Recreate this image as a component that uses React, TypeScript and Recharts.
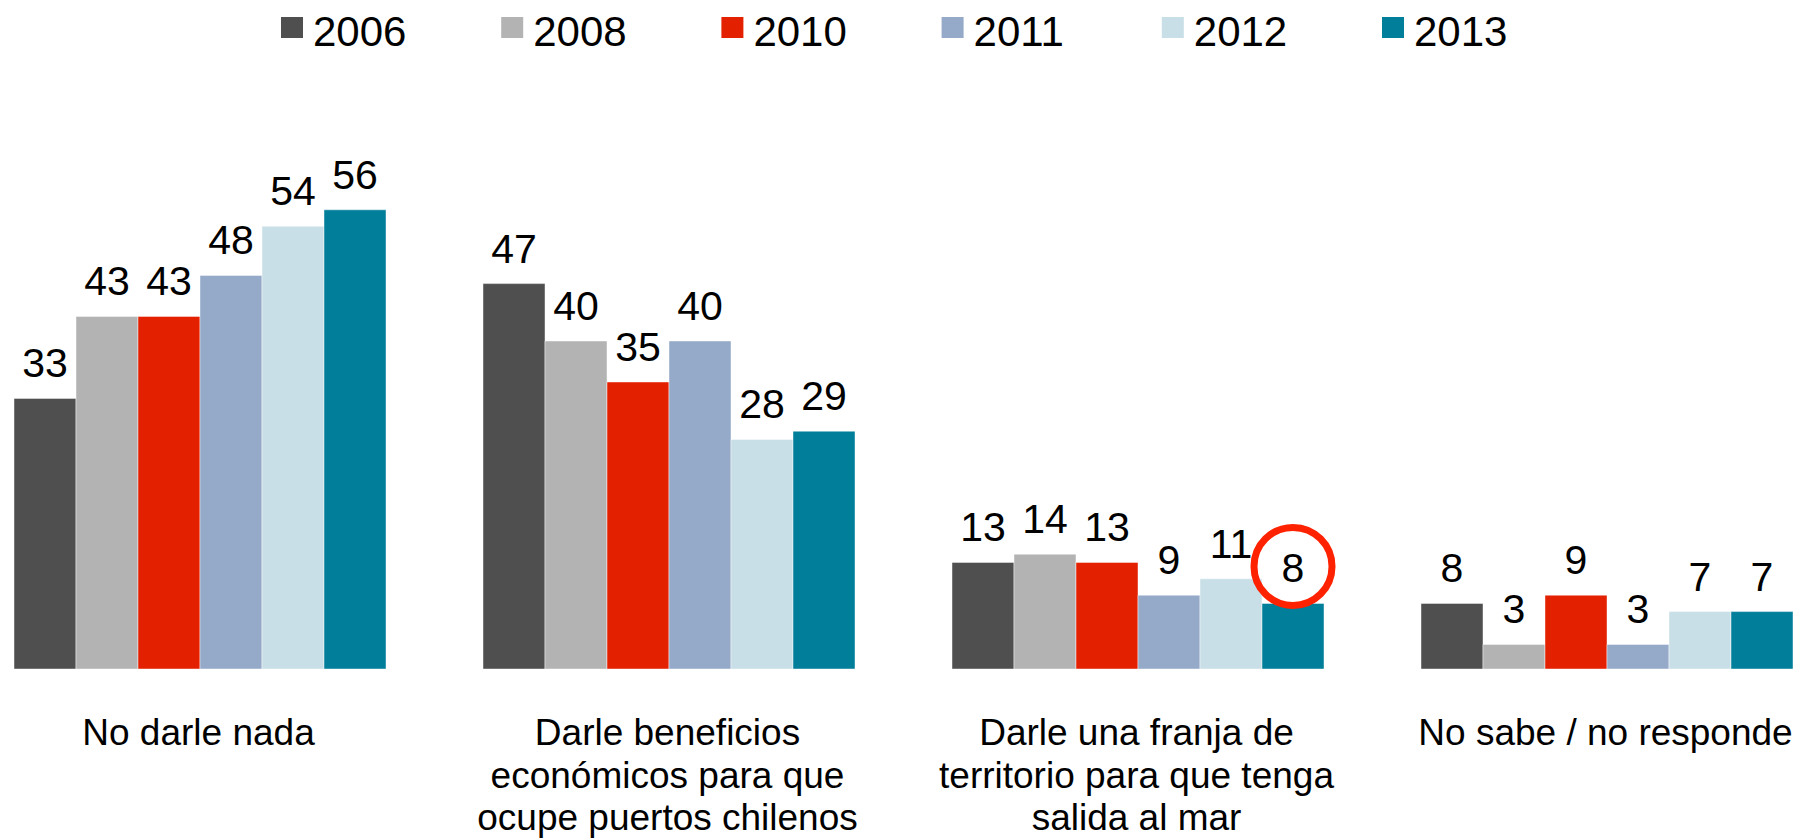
import { Bar, BarChart, LabelList, Legend, XAxis, YAxis } from 'recharts';

const categories = [
  'No darle nada',
  'Darle beneficios\necon\u00f3micos para que\nocupe puertos chilenos',
  'Darle una franja de\nterritorio para que tenga\nsalida al mar',
  'No sabe / no responde'
];

const years = ['2006', '2008', '2010', '2011', '2012', '2013'];

const values2006 = [33, 47, 13, 8];
const values2008 = [43, 40, 14, 3];
const values2010 = [43, 35, 13, 9];
const values2011 = [48, 40, 9, 3];
const values2012 = [54, 28, 11, 7];
const values2013 = [56, 29, 8, 7];

const seriesValues = [values2006, values2008, values2010, values2011, values2012, values2013];
const colors = ['#4f4f4f', '#b3b3b3', '#e32100', '#95a9c9', '#c8dfe7', '#007e9a'];

// the circled value in the original slide
const highlightYear = '2013';
const highlightIndex = 2;

const FONT = '"Liberation Sans", Arial, Helvetica, sans-serif';
const SHIFT = 36; // chart is pulled left so the outer category gaps fall off-page

const data = categories.map((name, i) => {
  const row: Record<string, string | number> = { name };
  years.forEach((year, s) => {
    row[year] = seriesValues[s][i];
  });
  return row;
});

function CategoryTick(props: any) {
  const { x, y, payload } = props;
  const lines = String(payload.value).split('\n');
  return (
    <g transform={`translate(${x},${y})`}>
      <text textAnchor="middle" fontFamily={FONT} fontSize={37} fill="#000">
        {lines.map((line, i) => (
          <tspan key={i} x={0} y={76 + i * 42.5}>
            {line}
          </tspan>
        ))}
      </text>
    </g>
  );
}

function makeValueLabel(year: string) {
  return function ValueLabel(props: any) {
    const { x, y, width, value, index } = props;
    const cx = Number(x) + Number(width) / 2;
    const top = Number(y);
    return (
      <g>
        <text x={cx} y={top - 21} textAnchor="middle" fontFamily={FONT} fontSize={41} fill="#000">
          {value}
        </text>
        {year === highlightYear && index === highlightIndex ? (
          <circle cx={cx} cy={top - 37} r={39} fill="none" stroke="#ff2200" strokeWidth={7} />
        ) : null}
      </g>
    );
  };
}

function YearLegend() {
  return (
    <svg width={1876} height={60} style={{ display: 'block' }}>
      {years.map((year, i) => {
        const left = 281 + SHIFT + i * 220.2;
        return (
          <g key={year}>
            <rect x={left} y={17} width={22} height={21} fill={colors[i]} />
            <text x={left + 32} y={46} fontFamily={FONT} fontSize={42} fill="#000">
              {year}
            </text>
          </g>
        );
      })}
    </svg>
  );
}

export default function App() {
  return (
    <div
      style={{
        position: 'absolute',
        left: 0,
        top: 0,
        width: 1799,
        height: 839,
        overflow: 'hidden',
        background: '#fff'
      }}
    >
      <div style={{ position: 'absolute', left: -SHIFT, top: 0 }}>
        <BarChart
          width={1876}
          height={839}
          data={data}
          margin={{ top: 95, right: 0, left: 0, bottom: 0 }}
          barCategoryGap={50}
          barGap={0}
        >
          <XAxis
            dataKey="name"
            height={170}
            axisLine={false}
            tickLine={false}
            tickSize={0}
            tickMargin={0}
            interval={0}
            tick={<CategoryTick />}
          />
          <YAxis hide domain={[0, 70]} />
          <Legend
            layout="horizontal"
            verticalAlign="middle"
            align="center"
            wrapperStyle={{ top: 0, left: 0, width: 1876, height: 60 }}
            content={() => <YearLegend />}
          />
          {years.map((year, i) => (
            <Bar
              key={year}
              dataKey={year}
              fill={colors[i]}
              stroke="rgba(255,255,255,0.45)"
              strokeWidth={1}
              isAnimationActive={false}
            >
              <LabelList dataKey={year} content={makeValueLabel(year)} />
            </Bar>
          ))}
        </BarChart>
      </div>
    </div>
  );
}
